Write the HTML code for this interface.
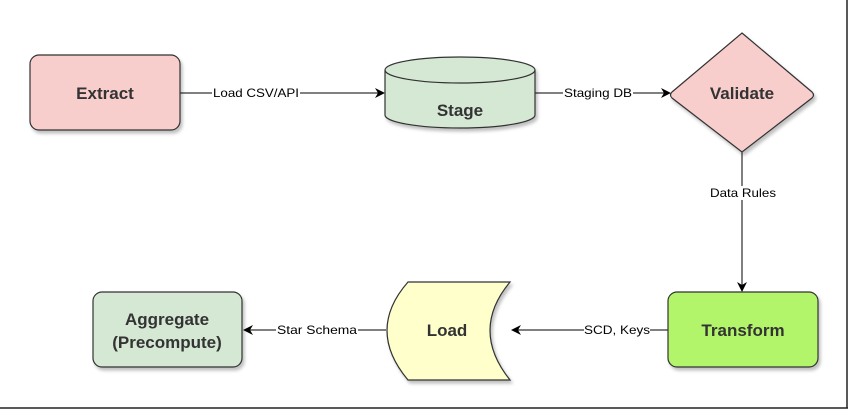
<!DOCTYPE html>
<html><head><meta charset="utf-8"><style>
html,body{margin:0;padding:0;background:#fff;}
svg text{font-family:"Liberation Sans",sans-serif;}
</style></head><body>
<svg width="852" height="412" viewBox="0 0 852 412" xmlns="http://www.w3.org/2000/svg">
<defs>
<marker id="a" markerWidth="10" markerHeight="10" refX="9" refY="5" orient="auto" markerUnits="userSpaceOnUse">
<path d="M0,0 L10,5 L0,10 L3,5 z" fill="#000"/></marker>
<filter id="s" x="-10%" y="-10%" width="130%" height="130%"><feDropShadow dx="2" dy="3" stdDeviation="1.5" flood-color="#000" flood-opacity="0.25"/></filter>
</defs>
<line x1="847" y1="0" x2="847" y2="408" stroke="#222" stroke-width="1.5"/>
<line x1="0" y1="408" x2="848" y2="408" stroke="#222" stroke-width="1.5"/>
<!-- edges -->
<line x1="180" y1="93" x2="384" y2="93" stroke="#000" marker-end="url(#a)"/>
<rect x="212" y="86" width="88" height="14" fill="#fff"/>
<text x="256" y="97" font-size="12" text-anchor="middle" textLength="86" lengthAdjust="spacingAndGlyphs">Load CSV/API</text>
<line x1="535" y1="93" x2="670" y2="93" stroke="#000" marker-end="url(#a)"/>
<rect x="563" y="86" width="70" height="14" fill="#fff"/>
<text x="598" y="97" font-size="12" text-anchor="middle" textLength="68" lengthAdjust="spacingAndGlyphs">Staging DB</text>
<line x1="742" y1="152" x2="742" y2="291" stroke="#000" marker-end="url(#a)"/>
<rect x="713" y="186" width="60" height="14" fill="#fff"/>
<text x="743" y="197" font-size="12" text-anchor="middle" textLength="66" lengthAdjust="spacingAndGlyphs">Data Rules</text>
<line x1="668" y1="330" x2="512" y2="330" stroke="#000" marker-end="url(#a)"/>
<rect x="584" y="323" width="66" height="14" fill="#fff"/>
<text x="617" y="334" font-size="12" text-anchor="middle" textLength="66" lengthAdjust="spacingAndGlyphs">SCD, Keys</text>
<line x1="386" y1="330" x2="244" y2="330" stroke="#000" marker-end="url(#a)"/>
<rect x="276" y="323" width="82" height="14" fill="#fff"/>
<text x="317" y="334" font-size="12" text-anchor="middle" textLength="80" lengthAdjust="spacingAndGlyphs">Star Schema</text>
<!-- nodes -->
<g filter="url(#s)" stroke="#333" stroke-width="1.2">
<rect x="30" y="55" width="150" height="75" rx="9" fill="#f8cecc"/>
<path d="M385,70 L385,115 A75,13 0 0 0 535,115 L535,70 A75,13 0 0 0 385,70 Z" fill="#d5e8d4"/>
<path d="M385,70 A75,13 0 0 0 535,70" fill="none"/>
<path d="M742,33 L812,92 Q815,95 812,98 L742,152 L672,98 Q669,95 672,92 Z" fill="#f8cecc"/>
<rect x="668" y="292" width="150" height="75" rx="9" fill="#b3f56b"/>
<path d="M408,282 L510,282 Q470,330 510,380 L408,380 Q366,330 408,282 Z" fill="#ffffcc"/>
<rect x="93" y="292" width="149" height="75" rx="9" fill="#d5e8d4"/>
</g>
<g font-weight="bold" font-size="17" fill="#333" text-anchor="middle">
<text x="105" y="99">Extract</text>
<text x="460" y="116">Stage</text>
<text x="742" y="99">Validate</text>
<text x="743" y="336">Transform</text>
<text x="447" y="336">Load</text>
<text x="167" y="325">Aggregate</text>
<text x="167" y="348">(Precompute)</text>
</g>
</svg>
</body></html>
